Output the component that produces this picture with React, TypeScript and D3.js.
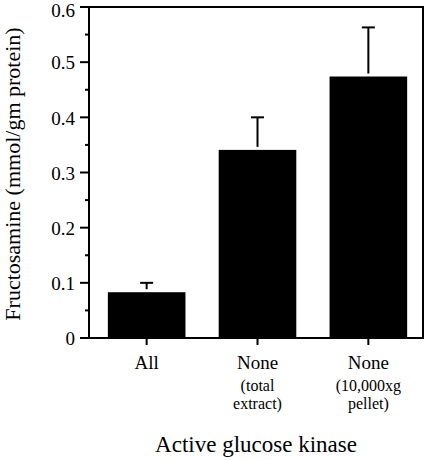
import React from "react";
import * as d3 from "d3";

const categories = ["All", "None (total extract)", "None (10,000xg pellet)"];
const mainLabels = ["All", "None", "None"];
const subLabels1 = ["", "(total", "(10,000xg"];
const subLabels2 = ["", "extract)", "pellet)"];
const values = [0.083, 0.341, 0.474];
const errors = [0.017, 0.059, 0.089];
const majorTicks = [0, 0.1, 0.2, 0.3, 0.4, 0.5, 0.6];
const minorTicks = [0.05, 0.15, 0.25, 0.35, 0.45, 0.55];
const yTitle = "Fructosamine (mmol/gm protein)";
const xTitle = "Active glucose kinase";

const W = 428;
const H = 460;
const FONT = "'Liberation Serif', 'Times New Roman', serif";

export default function App() {
  const left = 89, right = 423, top = 7, bottom = 338;
  const y = d3.scaleLinear().domain([0, 0.6]).range([bottom, top]);
  const x = d3
    .scaleBand<string>()
    .domain(categories)
    .range([left, 426])
    .paddingInner(0.3)
    .paddingOuter(0.17);
  const bw = x.bandwidth();
  const fmt = (v: number) => (v === 0 ? "0" : d3.format(".1f")(v));

  return (
    <div style={{ position: "absolute", left: 0, top: 0 }}>
      <svg width={W} height={H} style={{ display: "block", background: "#fff" }}>
        <rect x={0} y={0} width={W} height={H} fill="#fff" />
        {/* bars */}
        {categories.map((c, i) => (
          <rect
            key={c}
            x={x(c)!}
            y={y(values[i])}
            width={bw}
            height={y(0) - y(values[i])}
            fill="#000"
          />
        ))}
        {/* error bars */}
        {categories.map((c, i) => {
          const cx = x(c)! + bw / 2;
          const yt = y(values[i] + errors[i]);
          return (
            <g key={"e" + c} stroke="#000" strokeWidth={2}>
              <line x1={cx} x2={cx} y1={y(values[i]) - 3} y2={yt} />
              <line x1={cx - 6.5} x2={cx + 6.5} y1={yt} y2={yt} />
            </g>
          );
        })}
        {/* frame */}
        <g stroke="#000" strokeWidth={2} fill="none">
          <line x1={left} x2={left} y1={top - 1} y2={bottom + 1} />
          <line x1={left - 1} x2={right + 1} y1={bottom} y2={bottom} />
          <line x1={left - 1} x2={right + 1} y1={top} y2={top} />
          <line x1={right} x2={right} y1={top - 1} y2={bottom + 1} />
        </g>
        {/* y ticks */}
        {majorTicks.map((t) => (
          <g key={"M" + t}>
            <line x1={left - 9} x2={left} y1={y(t)} y2={y(t)} stroke="#000" strokeWidth={2} />
            <text
              x={75}
              y={Math.max(y(t), 10)}
              dy="0.38em"
              textAnchor="end"
              fontFamily={FONT}
              fontSize={19}
              fill="#000"
            >
              {fmt(t)}
            </text>
          </g>
        ))}
        {minorTicks.map((t) => (
          <line key={"m" + t} x1={left - 4} x2={left} y1={y(t)} y2={y(t)} stroke="#000" strokeWidth={2} />
        ))}
        {/* x ticks & labels */}
        {categories.map((c, i) => {
          const cx = x(c)! + bw / 2;
          return (
            <g key={"x" + c}>
              <line x1={cx} x2={cx} y1={bottom} y2={bottom + 7} stroke="#000" strokeWidth={2} />
              <text x={cx} y={369} textAnchor="middle" fontFamily={FONT} fontSize={19} fill="#000">
                {mainLabels[i]}
              </text>
              {subLabels1[i] && (
                <text x={cx} y={391} textAnchor="middle" fontFamily={FONT} fontSize={16} fill="#000">
                  {subLabels1[i]}
                </text>
              )}
              {subLabels2[i] && (
                <text x={cx} y={409} textAnchor="middle" fontFamily={FONT} fontSize={16} fill="#000">
                  {subLabels2[i]}
                </text>
              )}
            </g>
          );
        })}
        {/* titles */}
        <text x={256} y={452} textAnchor="middle" fontFamily={FONT} fontSize={23} fill="#000">
          {xTitle}
        </text>
        <text
          transform="translate(20,174) rotate(-90)"
          textAnchor="middle"
          fontFamily={FONT}
          fontSize={22}
          fill="#000"
        >
          {yTitle}
        </text>
      </svg>
    </div>
  );
}
